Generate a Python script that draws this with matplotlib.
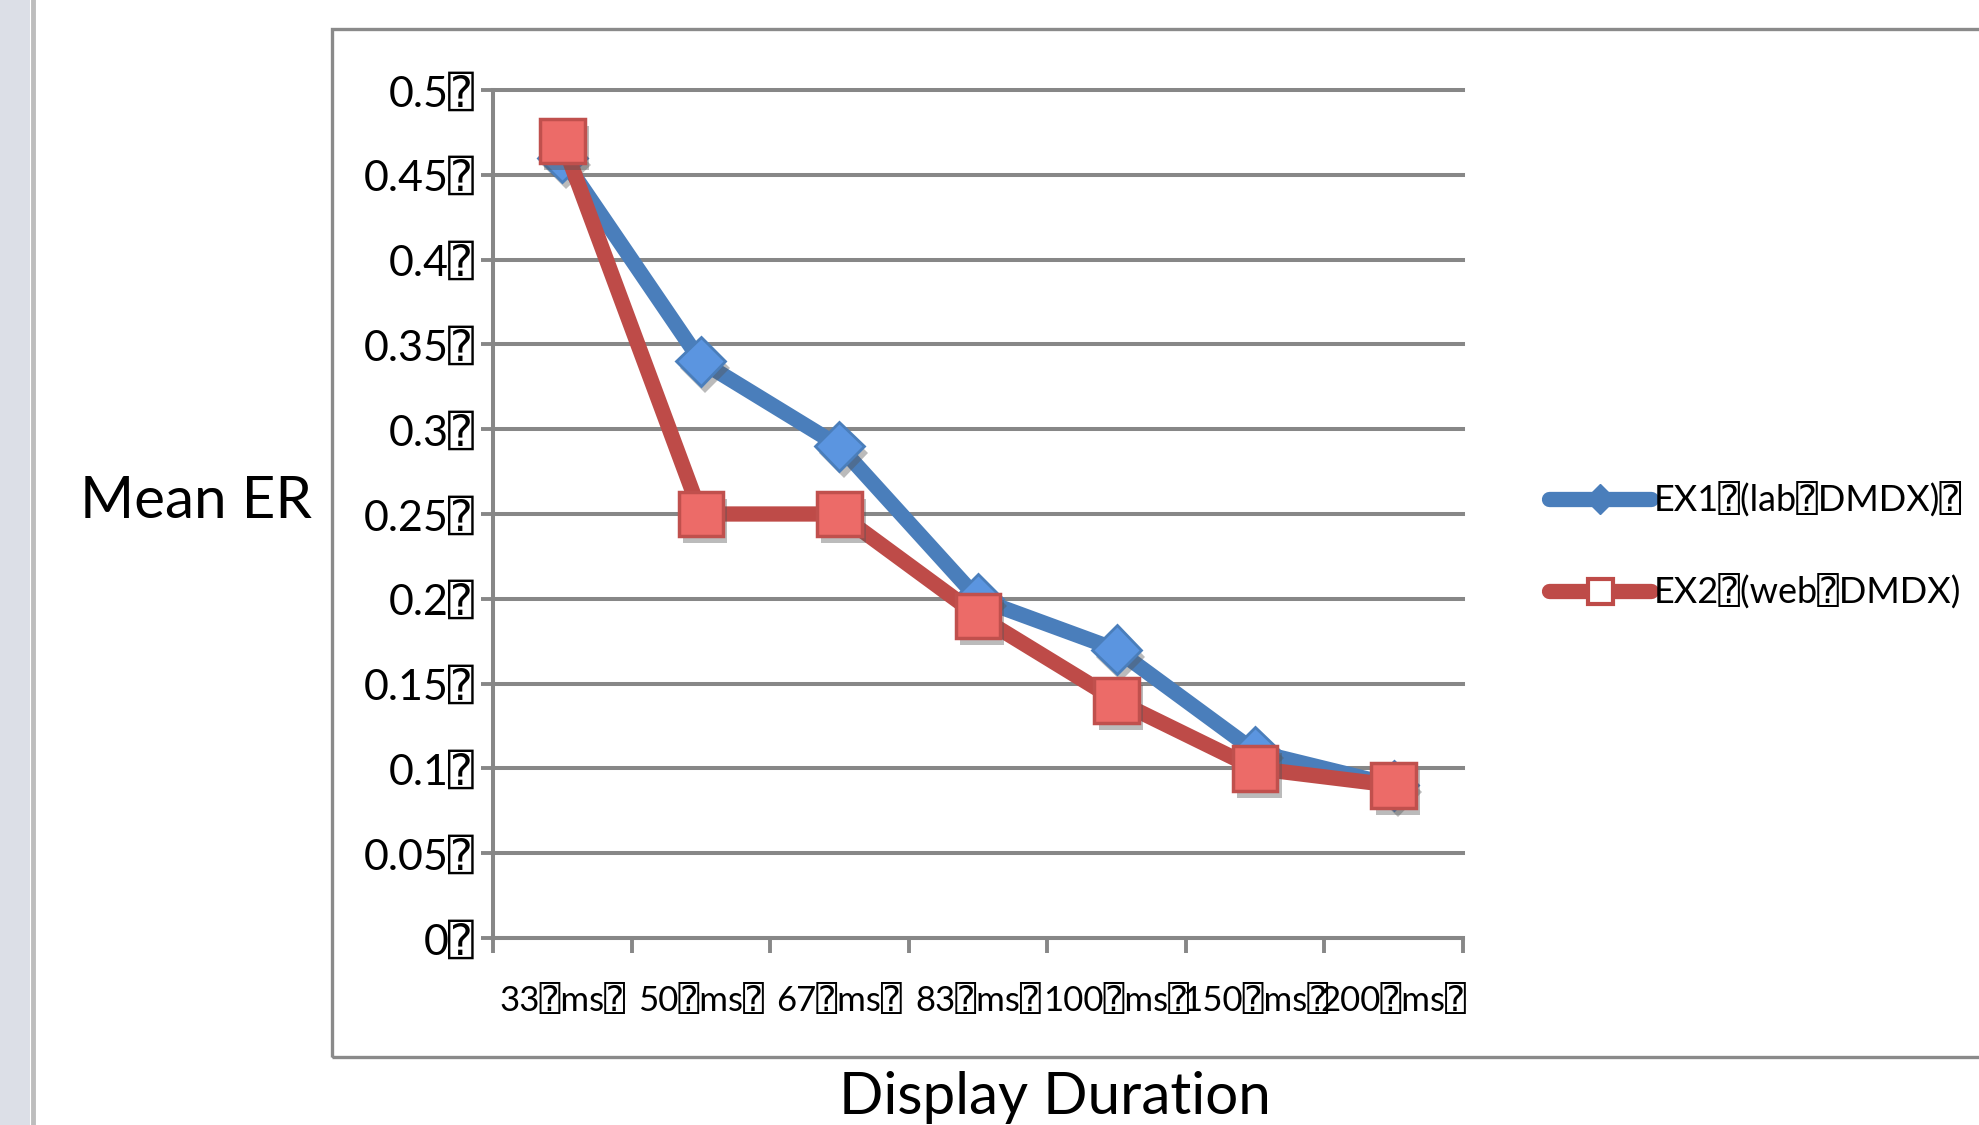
import matplotlib
matplotlib.use("Agg")
import matplotlib.pyplot as plt
import matplotlib.patheffects as pe
from matplotlib.patches import Rectangle
from matplotlib.lines import Line2D

plt.rcParams["font.family"] = ["Lato", "DejaVu Sans", "DejaVu Sans Mono"]

Q = "\u2370"  # box glyph shown in place of the missing spaces

durations = ["33", "50", "67", "83", "100", "150", "200"]
ex1_lab = [0.46, 0.34, 0.29, 0.20, 0.17, 0.11, 0.09]
ex2_web = [0.47, 0.25, 0.25, 0.19, 0.14, 0.10, 0.09]
y_ticks = [0, 0.05, 0.1, 0.15, 0.2, 0.25, 0.3, 0.35, 0.4, 0.45, 0.5]
y_tick_labels = ["0", "0.05", "0.1", "0.15", "0.2", "0.25", "0.3", "0.35", "0.4", "0.45", "0.5"]
series_names = [f"EX1{Q}(lab{Q}DMDX){Q}", f"EX2{Q}(web{Q}DMDX)"]

W, H = 1979, 1125
fig = plt.figure(figsize=(W / 100, H / 100), dpi=100)
fig.patch.set_facecolor("white")

# side strip + chart frame --------------------------------------------
fig.add_artist(Rectangle((0, 0), 30 / W, 1, transform=fig.transFigure,
                         facecolor="#dcdfe7", edgecolor="none"))
fig.add_artist(Line2D([32.5 / W, 32.5 / W], [0, 1], transform=fig.transFigure,
                      color="#bdbdbd", lw=3.5))
fig.add_artist(Rectangle((332 / W, 1 - 1057 / H), 2000 / W, (1057 - 29) / H,
                         transform=fig.transFigure, facecolor="none",
                         edgecolor="#8a8a8a", lw=2.4))

ax = fig.add_axes([493 / W, 1 - 938 / H, (1463 - 493) / W, (938 - 90) / H])
ax.set_facecolor("none")

grey = "#878787"
x = list(range(len(durations)))

shadow = [pe.SimplePatchShadow(offset=(3, -5), shadow_rgbFace="#555555", alpha=0.4),
          pe.Normal()]

ax.plot(x, ex1_lab, color="#4a7ebb", lw=11, solid_capstyle="butt", zorder=3)
ax.plot(x, ex1_lab, ls="none", marker="D", ms=25, mfc="#5b95e0", mec="#4a7ebb",
        mew=2, zorder=4, path_effects=shadow)
ax.plot(x, ex2_web, color="#be4b48", lw=11, solid_capstyle="butt", zorder=5)
ax.plot(x, ex2_web, ls="none", marker="s", ms=32, mfc="#ec6b68", mec="#c0504d",
        mew=2.5, zorder=6, path_effects=shadow)

ax.set_xlim(-0.5, len(durations) - 0.5)
ax.set_ylim(0, 0.5)

ax.set_yticks(y_ticks)
ax.set_yticklabels([t + Q for t in y_tick_labels])
ax.set_xticks(x)
ax.set_xticklabels([d + Q + "ms" + Q for d in durations])
ax.set_xticks([i - 0.5 for i in range(len(durations) + 1)], minor=True)

ax.tick_params(axis="y", length=9, width=2.8, color=grey, labelsize=31, pad=4)
ax.tick_params(axis="x", which="major", length=0, labelsize=25, pad=34)
ax.tick_params(axis="x", which="minor", length=11, width=2.8, color=grey)

ax.grid(axis="y", color=grey, lw=2.9, zorder=1)
ax.set_axisbelow(True)
for gl in ax.get_ygridlines():
    gl.set_clip_on(False)

for s in ["top", "right"]:
    ax.spines[s].set_visible(False)
for s in ["left", "bottom"]:
    ax.spines[s].set_color(grey)
    ax.spines[s].set_linewidth(2.9)

fig.text(196 / W, 1 - 501 / H, "Mean ER", fontsize=42, ha="center", va="center")
fig.text(1055 / W, 1 - 1098 / H, "Display Duration", fontsize=42, ha="center", va="center")

handles = [
    Line2D([], [], color="#4a7ebb", lw=11, solid_capstyle="round", marker="D",
           ms=15, mfc="#4a7ebb", mec="#4a7ebb"),
    Line2D([], [], color="#be4b48", lw=11, solid_capstyle="round", marker="s",
           ms=18, mfc="white", mec="#be4b48", mew=3),
]
fig.legend(handles, series_names, loc="center left",
           bbox_to_anchor=(1535 / W, 1 - 546 / H), frameon=False,
           fontsize=26, handlelength=2.8, handletextpad=0.1, labelspacing=1.55,
           borderaxespad=0)

fig.savefig("out.png", dpi=100)
